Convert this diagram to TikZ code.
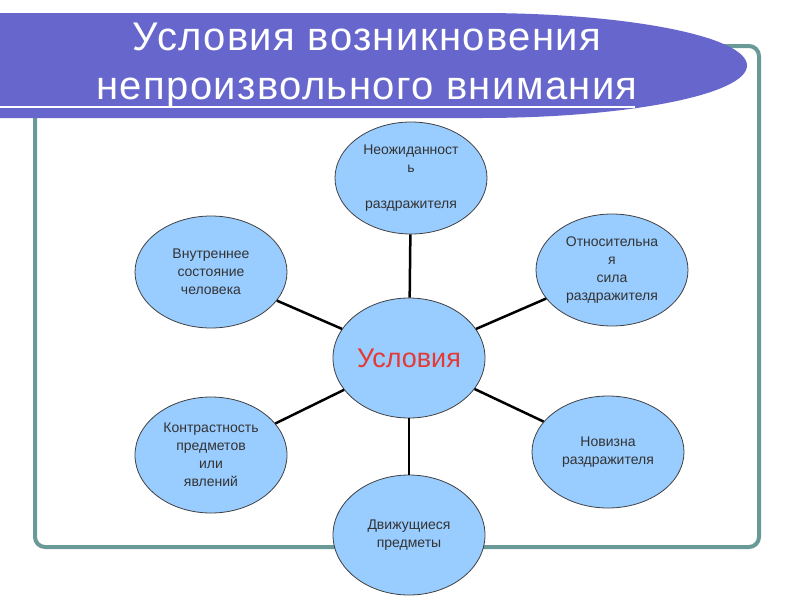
\documentclass[tikz,border=0pt]{standalone}
\usepackage{fontspec}
\setmainfont{Liberation Sans}
\newfontfamily\titlefont[LetterSpace=3.5]{Liberation Sans}
\usetikzlibrary{shapes.geometric}

\definecolor{bannerblue}{RGB}{102,102,204}
\definecolor{framegreen}{RGB}{106,154,152}
\definecolor{ellipseblue}{RGB}{153,204,255}
\definecolor{condred}{RGB}{229,57,53}

\begin{document}
\begin{tikzpicture}[x=1pt,y=-1pt,factor/.style={ellipse,draw=black!75,line width=0.8pt,fill=ellipseblue,minimum width=152pt,minimum height=112pt,inner sep=0pt,align=center,font=\fontsize{14}{18}\selectfont,text=black!80},link/.style={line width=2.5pt}]
\useasboundingbox (0,0) rectangle (800,600);
\draw[framegreen,line width=4pt,rounded corners=10pt] (35,46) rectangle (759,547);
\fill[bannerblue] (0,13) -- (480,13) arc[start angle=-90,end angle=90,x radius=267,y radius=52.5] -- (0,118) -- cycle;
\draw[white,line width=2pt] (0,107) -- (635,107);
\node[text=white,align=center,font=\titlefont\fontsize{40}{49}\selectfont] (title) at (367,65) {Условия возникновения\\непроизвольного внимания};
\node[factor,minimum height=120pt,font=\fontsize{27}{32}\selectfont,text=condred] (cond) at (409,358) {Условия};
\node[factor] (unexp) at (411,178) {Неожиданност\\ь\\\mbox{}\\раздражителя};
\node[factor] (relforce) at (612,270) {Относительна\\я\\сила\\раздражителя};
\node[factor] (inner) at (211,272) {Внутреннее\\состояние\\человека};
\node[factor,minimum height=116pt] (contrast) at (211,455) {Контрастность\\предметов\\или\\явлений};
\node[factor] (novelty) at (608,452) {Новизна\\раздражителя};
\node[factor,minimum height=120pt] (moving) at (409,535) {Движущиеся\\предметы};
\draw[link] (cond) -- (unexp);
\draw[link] (cond) -- (relforce);
\draw[link] (cond) -- (inner);
\draw[link] (cond) -- (contrast);
\draw[link] (cond) -- (novelty);
\draw[link] (cond) -- (moving);
\end{tikzpicture}
\end{document}
